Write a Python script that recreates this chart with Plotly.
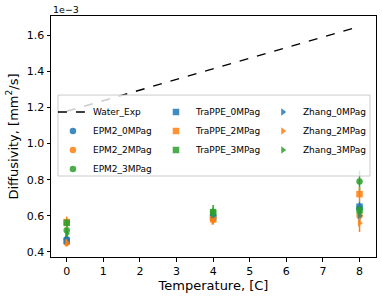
import plotly.graph_objects as go

temps = [0, 4, 8]
water_T = [0, 4, 8]
water_D = [1.18, 1.415, 1.65]

epm2_0 = [0.47, 0.60, 0.64]
epm2_2 = [0.45, 0.59, 0.60]
epm2_3 = [0.52, 0.62, 0.79]
trappe_0 = [0.46, 0.59, 0.65]
trappe_2 = [0.565, 0.58, 0.72]
trappe_3 = [0.56, 0.62, 0.63]
zhang_0 = [0.47, 0.60, 0.60]
zhang_2 = [0.45, 0.57, 0.56]
zhang_3 = [0.50, 0.61, 0.62]

err_epm2_0 = [0.02, 0.02, 0.03]
err_epm2_2 = [0.02, 0.02, 0.03]
err_epm2_3 = [0.03, 0.04, 0.06]
err_trappe_0 = [0.02, 0.02, 0.03]
err_trappe_2 = [0.03, 0.02, 0.04]
err_trappe_3 = [0.02, 0.02, 0.03]
err_zhang_0 = [0.02, 0.02, 0.03]
err_zhang_2 = [0.02, 0.02, 0.05]
err_zhang_3 = [0.02, 0.02, 0.03]

BLUE, ORANGE, GREEN = "#1f77b4", "#ff7f0e", "#2ca02c"
FONT = "DejaVu Sans"

fig = go.Figure()

def add(name, y, e, color, symbol, legend):
    fig.add_trace(go.Scatter(
        x=temps, y=y, name=name, mode="markers", legend=legend,
        marker=dict(color=color, symbol=symbol, size=6.5, opacity=0.85,
                    line=dict(width=0)),
        error_y=dict(type="data", array=e, color=color, thickness=1.5, width=0),
    ))

fig.add_trace(go.Scatter(x=water_T, y=water_D, name="Water_Exp", mode="lines",
                         legend="legend",
                         line=dict(color="black", dash="dash", width=1.5)))
add("EPM2_0MPag", epm2_0, err_epm2_0, BLUE, "circle", "legend")
add("EPM2_2MPag", epm2_2, err_epm2_2, ORANGE, "circle", "legend")
add("EPM2_3MPag", epm2_3, err_epm2_3, GREEN, "circle", "legend")
add("TraPPE_0MPag", trappe_0, err_trappe_0, BLUE, "square", "legend2")
add("TraPPE_2MPag", trappe_2, err_trappe_2, ORANGE, "square", "legend2")
add("TraPPE_3MPag", trappe_3, err_trappe_3, GREEN, "square", "legend2")
add("Zhang_0MPag", zhang_0, err_zhang_0, BLUE, "triangle-right", "legend3")
add("Zhang_2MPag", zhang_2, err_zhang_2, ORANGE, "triangle-right", "legend3")
add("Zhang_3MPag", zhang_3, err_zhang_3, GREEN, "triangle-right", "legend3")

axis_common = dict(showline=True, linecolor="black", linewidth=1, mirror=True,
                   ticks="outside", ticklen=3.5, tickcolor="black", tickwidth=1,
                   showgrid=False, zeroline=False, automargin=True,
                   tickfont=dict(family=FONT, size=11, color="black"))

LEG_Y = 0.662
leg_common = dict(orientation="v", y=LEG_Y, xanchor="left", yanchor="top",
                  bgcolor="rgba(0,0,0,0)", borderwidth=0, tracegroupgap=0,
                  font=dict(family=FONT, size=9, color="black"))

fig.update_layout(
    width=382, height=299,
    margin=dict(l=51, r=6, t=16, b=42),
    paper_bgcolor="white", plot_bgcolor="white",
    font=dict(family=FONT, color="black"),
    showlegend=True,
    legend=dict(x=0.006, **leg_common),
    legend2=dict(x=0.323, **leg_common),
    legend3=dict(x=0.652, **leg_common),
    shapes=[dict(type="rect", xref="paper", yref="paper", layer="above",
                 x0=0.0215, x1=0.9815, y0=0.336, y1=0.672,
                 fillcolor="rgba(255,255,255,0.8)",
                 line=dict(color="#cccccc", width=1))],
    xaxis=dict(range=[-0.43, 8.45], tickvals=list(range(9)),
               title=dict(text="Temperature, [C]", font=dict(family=FONT, size=13), standoff=2),
               **axis_common),
    yaxis=dict(range=[0.371, 1.708], tickvals=[0.4, 0.6, 0.8, 1.0, 1.2, 1.4, 1.6],
               tickformat=".1f",
               title=dict(text="Diffusivity, [mm<sup>2</sup>/s]", font=dict(family=FONT, size=13), standoff=5),
               **axis_common),
    annotations=[dict(text="1e\u22123", xref="paper", yref="paper", x=0, y=1,
                      xanchor="left", yanchor="bottom", showarrow=False,
                      font=dict(family=FONT, size=9.5, color="black"), yshift=-1)],
)

fig.write_html("out.html", config={"displayModeBar": False},
               post_script="document.body.style.margin='0';")
